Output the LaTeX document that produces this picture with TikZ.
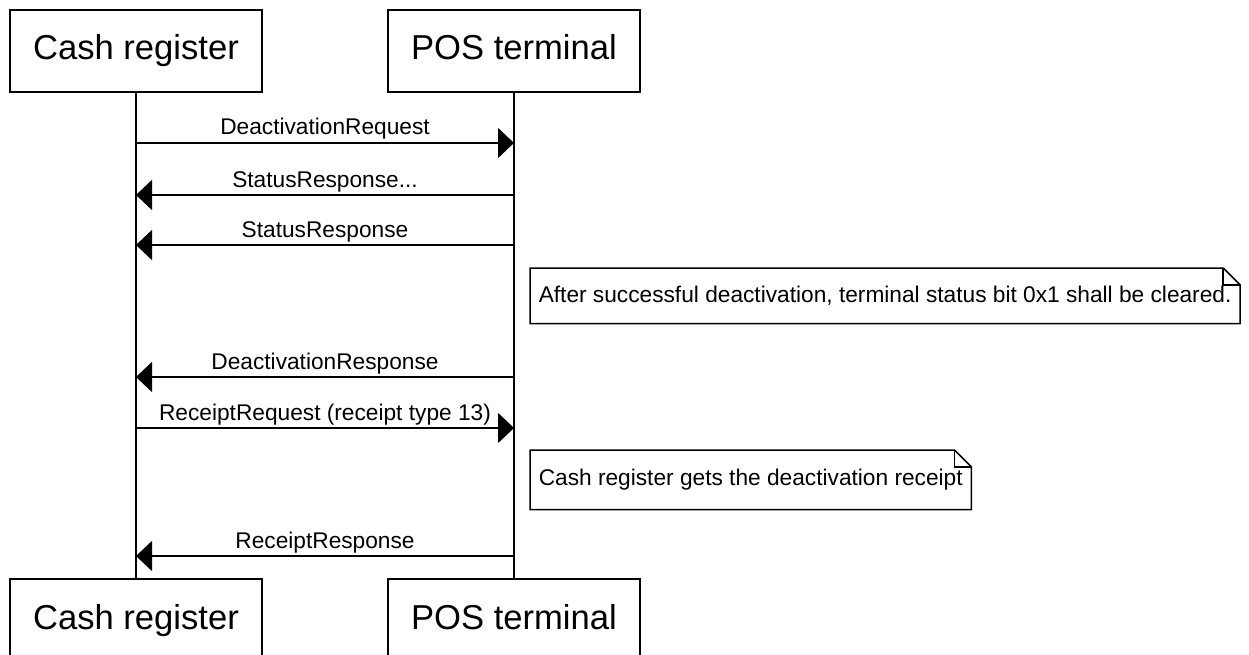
\documentclass[tikz,border=0pt]{standalone}
\usepackage{fontspec}
\setmainfont{Liberation Sans}
\usetikzlibrary{arrows.meta}
\tikzset{
  actor/.style={draw, line width=1.5pt, minimum width=252pt, minimum height=82pt, text height=25pt, text depth=7pt, font=\fontsize{34.6}{40}\selectfont},
  msg/.style={line width=1.5pt, -{Triangle[length=16pt,width=30pt]}},
  lbl/.style={midway, anchor=base, yshift=8pt, inner sep=0pt, font=\fontsize{22.7}{26}\selectfont},
  notetext/.style={anchor=north west, inner xsep=8pt, inner ysep=0pt, font=\fontsize{22.7}{26}\selectfont}
}
\begin{document}
\begin{tikzpicture}[x=1pt,y=-1pt, line width=1.5pt]
\useasboundingbox (0,0) rectangle (1249,655);
% participants
\node[actor] (cr) at (136,51) {Cash register};
\node[actor] (pos) at (514,51) {POS terminal};
\node[actor] (crb) at (136,620) {Cash register};
\node[actor] (posb) at (514,620) {POS terminal};
\draw (cr) -- (crb);
\draw (pos) -- (posb);
% messages
\coordinate (c1) at (136,143); \coordinate (p1) at (514,143);
\coordinate (c2) at (136,195); \coordinate (p2) at (514,195);
\coordinate (c3) at (136,245); \coordinate (p3) at (514,245);
\coordinate (c4) at (136,377); \coordinate (p4) at (514,377);
\coordinate (c5) at (136,428); \coordinate (p5) at (514,428);
\coordinate (c6) at (136,556); \coordinate (p6) at (514,556);
\draw[msg] (c1) -- (p1) node[lbl] {DeactivationRequest};
\draw[msg] (p2) -- (c2) node[lbl] {StatusResponse...};
\draw[msg] (p3) -- (c3) node[lbl] {StatusResponse};
\draw[msg] (p4) -- (c4) node[lbl] {DeactivationResponse};
\draw[msg] (c5) -- (p5) node[lbl] {ReceiptRequest (receipt type 13)};
\draw[msg] (p6) -- (c6) node[lbl] {ReceiptResponse};
% notes
\node[notetext, minimum height=54pt] (n1) at (530,268) {After successful deactivation, terminal status bit 0x1 shall be cleared.};
\node[notetext, minimum height=58pt] (n2) at (530,450) {Cash register gets the deactivation receipt};
\foreach \n in {n1,n2} {
  \draw (\n.north west) -- ([xshift=-17pt]\n.north east) -- ([yshift=-17pt]\n.north east)
    -- (\n.south east) -- (\n.south west) -- cycle;
  \draw ([xshift=-17pt]\n.north east) |- ([yshift=-17pt]\n.north east);
}
\end{tikzpicture}
\end{document}
